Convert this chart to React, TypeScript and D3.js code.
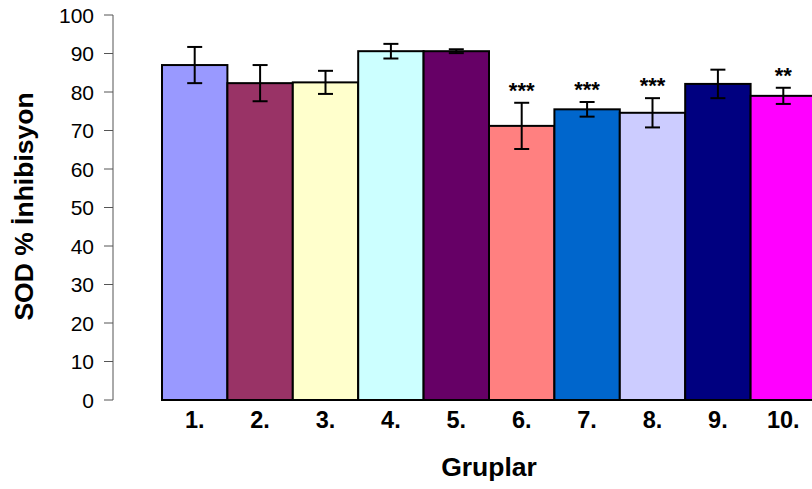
import * as d3 from 'd3';

const groups = ['1.', '2.', '3.', '4.', '5.', '6.', '7.', '8.', '9.', '10.'];
const means = [87.0, 82.3, 82.5, 90.6, 90.6, 71.2, 75.5, 74.6, 82.1, 79.0];
const errors = [4.7, 4.7, 3.0, 1.9, 0.5, 6.0, 1.9, 3.8, 3.7, 2.1];
const stars = ['', '', '', '', '', '***', '***', '***', '', '**'];
const colors = ['#9999FF', '#993366', '#FFFFCC', '#CCFFFF', '#660066', '#FF8080', '#0066CC', '#CCCCFF', '#000080', '#FF00FF'];
const yTicks = [0, 10, 20, 30, 40, 50, 60, 70, 80, 90, 100];

const App = () => {
  const width = 812;
  const height = 489;
  const axisX = 113;

  const x = d3.scaleBand<string>().domain(groups).range([162, 816]).paddingInner(0).paddingOuter(0);
  const y = d3.scaleLinear().domain([0, 100]).range([400, 15]);
  const font = 'Arial, "Liberation Sans", sans-serif';

  return (
    <svg width={width} height={height} style={{ position: 'absolute', left: 0, top: 0 }} fontFamily={font}>
      {/* y axis */}
      <line x1={axisX} x2={axisX} y1={y(0)} y2={y(100)} stroke="#555" strokeWidth={1} />
      {yTicks.map((t) => (
        <g key={t}>
          <line x1={axisX - 9} x2={axisX} y1={y(t)} y2={y(t)} stroke="#555" strokeWidth={1} />
          <text x={94} y={y(t)} dy="0.36em" textAnchor="end" fontSize={21} fill="#000">{t}</text>
        </g>
      ))}

      {/* bars */}
      {groups.map((g, i) => (
        <rect key={g} x={x(g)} y={y(means[i])} width={x.bandwidth()} height={y(0) - y(means[i])}
          fill={colors[i]} stroke="#000" strokeWidth={2} />
      ))}

      {/* error bars */}
      {groups.map((g, i) => {
        const cx = (x(g) as number) + x.bandwidth() / 2;
        const hi = y(means[i] + errors[i]);
        const lo = y(means[i] - errors[i]);
        return (
          <g key={g} stroke="#000" strokeWidth={2}>
            <line x1={cx} x2={cx} y1={hi} y2={lo} />
            <line x1={cx - 7.5} x2={cx + 7.5} y1={hi} y2={hi} />
            <line x1={cx - 7.5} x2={cx + 7.5} y1={lo} y2={lo} />
          </g>
        );
      })}

      {/* significance marks */}
      {groups.map((g, i) => stars[i] ? (
        <text key={g} x={(x(g) as number) + x.bandwidth() / 2} y={y(means[i] + errors[i]) - 5}
          textAnchor="middle" fontSize={22} fontWeight="bold">{stars[i]}</text>
      ) : null)}

      {/* x labels */}
      {groups.map((g) => (
        <text key={g} x={(x(g) as number) + x.bandwidth() / 2} y={428} textAnchor="middle"
          fontSize={23.5} fontWeight="bold">{g}</text>
      ))}

      <text x={489} y={476} textAnchor="middle" fontSize={26.5} fontWeight="bold">Gruplar</text>
      <text transform="translate(33, 206.5) rotate(-90)" textAnchor="middle" fontSize={26.5} fontWeight="bold">
        SOD % İnhibisyon
      </text>
    </svg>
  );
};

export default App;
